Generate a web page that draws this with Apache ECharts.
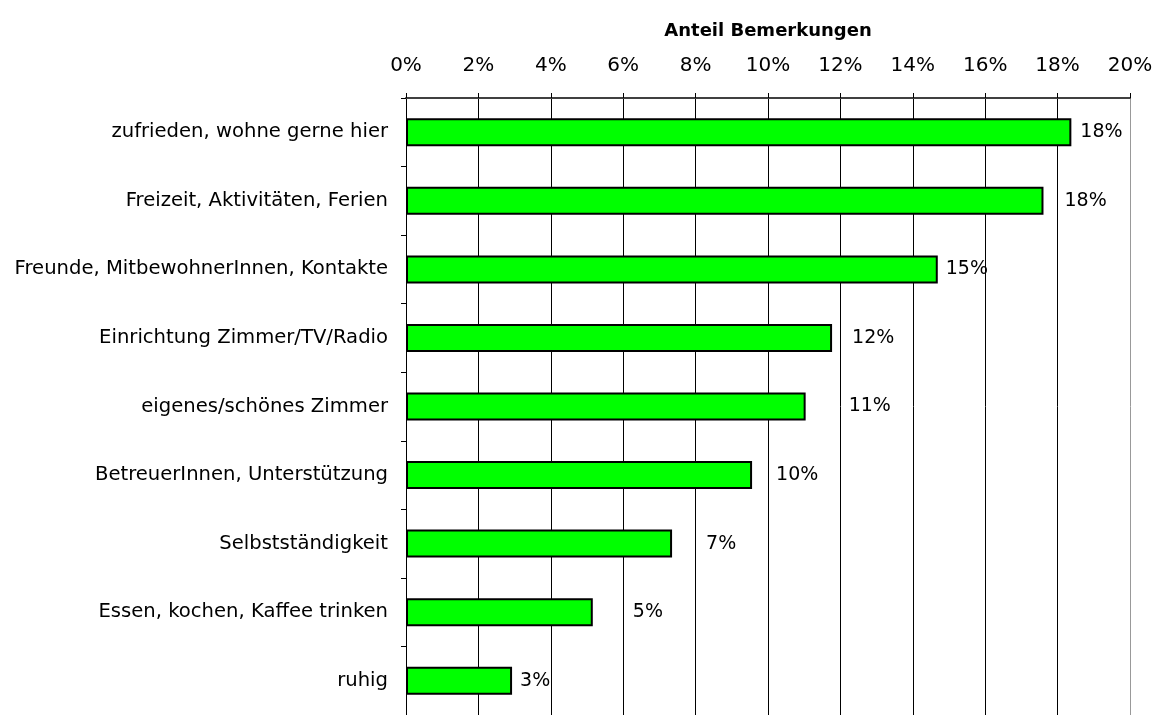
<!DOCTYPE html>
<html>
<head>
<meta charset="utf-8">
<script src="https://cdn.jsdelivr.net/npm/echarts@6/dist/echarts.min.js"></script>
<style>
  html, body { margin: 0; padding: 0; background: #fff; }
  #chart { width: 1159px; height: 715px; }
</style>
</head>
<body>
<div id="chart"></div>
<script>
// categories, top to bottom
const categories = [
  "zufrieden, wohne gerne hier",
  "Freizeit, Aktivitäten, Ferien",
  "Freunde, MitbewohnerInnen, Kontakte",
  "Einrichtung Zimmer/TV/Radio",
  "eigenes/schönes Zimmer",
  "BetreuerInnen, Unterstützung",
  "Selbstständigkeit",
  "Essen, kochen, Kaffee trinken",
  "ruhig"
];
// share of remarks, in percent
const shares = [18.38, 17.61, 14.69, 11.77, 11.04, 9.56, 7.35, 5.16, 2.93];
// gap between bar end and its label (the original labels are placed unevenly)
const labelGaps = [9, 21, 8, 20, 43, 24, 34, 40, 8];

const font = "DejaVu Sans";
const chart = echarts.init(document.getElementById("chart"));

chart.setOption({
  animation: false,
  grid: { left: 406, right: 29, top: 98, height: 618 },
  xAxis: {
    type: "value",
    position: "top",
    min: 0,
    max: 20,
    interval: 2,
    name: "Anteil Bemerkungen",
    nameLocation: "middle",
    nameGap: 58,
    nameTextStyle: { fontFamily: font, fontSize: 18, fontWeight: "bold", color: "#000" },
    axisLine: { show: true, lineStyle: { color: "#404040", width: 2 } },
    axisTick: { show: true, inside: false, length: 5, lineStyle: { color: "#000" } },
    axisLabel: {
      margin: 22,
      fontFamily: font,
      fontSize: 20,
      color: "#000",
      formatter: v => v + "%"
    },
    splitLine: {
      show: true,
      lineStyle: {
        color: ["#000", "#000", "#000", "#000", "#000", "#000", "#000", "#000", "#000", "#000", "#999"],
        width: 1
      }
    }
  },
  yAxis: {
    type: "category",
    data: categories,
    inverse: true,
    axisLine: { show: true, lineStyle: { color: "#000", width: 1 } },
    axisTick: { show: true, length: 5, lineStyle: { color: "#000" } },
    axisLabel: { margin: 18, fontFamily: font, fontSize: 19.6, color: "#000" }
  },
  series: [{
    type: "bar",
    barWidth: 28,
    data: shares.map((v, i) => ({
      value: v,
      label: { distance: labelGaps[i] }
    })),
    itemStyle: { color: "#00ff00", borderColor: "#000", borderWidth: 2 },
    label: {
      show: true,
      position: "right",
      fontFamily: font,
      fontSize: 19,
      color: "#000",
      formatter: p => Math.round(p.value) + "%"
    }
  }]
});
</script>
</body>
</html>
